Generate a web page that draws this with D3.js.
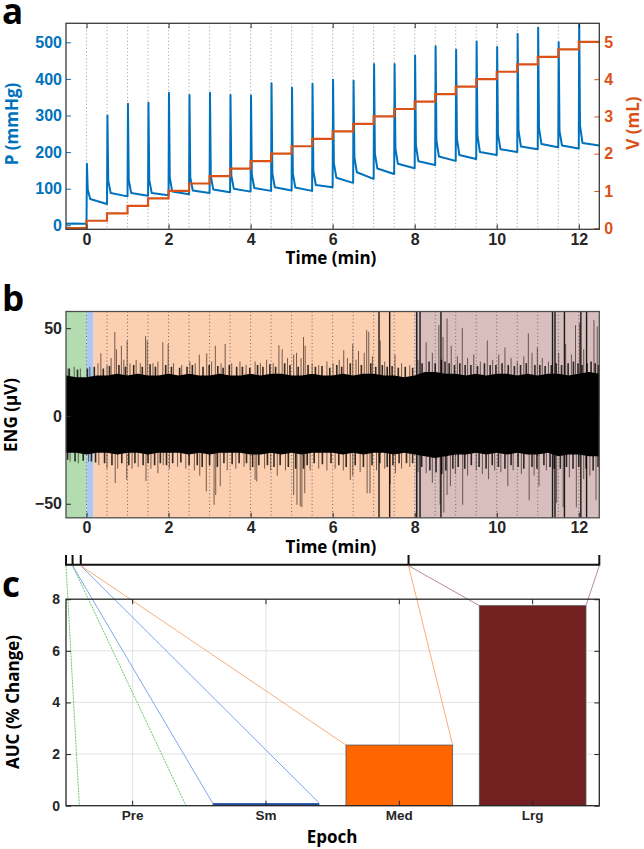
<!DOCTYPE html>
<html><head><meta charset="utf-8">
<script src="https://cdn.jsdelivr.net/npm/d3@7"></script>
<style>body{margin:0;background:#fff}svg{display:block}</style>
</head><body><svg id="chart" width="644" height="849"></svg>
<script>
// ---------------- DATA ----------------
// Panel a
const injectionTimes = [0,0.5,1,1.5,2,2.5,3,3.5,4,4.5,5,5.5,6,6.5,7,7.5,8,8.5,9,9.5,10,10.5,11,11.5,12];
const pressurePeaks  = [168,300,332,335,362,356,362,356,355,388,376,387,398,395,441,441,464,489,480,502,487,523,540,500,565];
const decayKnee      = [98,122,124,124,130,131,134,136,138,142,141,148,170,186,196,210,218,232,236,246,250,260,266,258,272];
const plateauStart   = [72,88,88,88,92,95,98,100,102,104,103,110,130,145,155,168,175,188,192,200,208,215,222,218,225];
const plateauEnd     = [58,79,81,82,85,88,90,92,94,95,94,104,116,127,140,156,165,176,181,192,200,208,213,210,218];
const preInjectionPressure = [[-0.5,4],[-0.3,5],[-0.1,4],[0,4.5]];
const volumeLevels   = [0.2,0.4,0.6,0.8,1.0,1.2,1.4,1.6,1.8,2.0,2.2,2.4,2.6,2.8,3.0,3.2,3.4,3.6,3.8,4.0,4.2,4.4,4.6,4.8,5.0];
const preInjectionVolume = 0;
const timeTicks = [0,2,4,6,8,10,12];
const pressureTicks = [0,100,200,300,400,500];
const volumeTicks = [0,1,2,3,4,5];

// Panel b
const epochNames  = ["Pre","Sm","Med","Lrg"];
const epochStarts = [-0.5, 0, 0.17, 8.0];
const epochEnds   = [0, 0.17, 8.0, 12.5];
const envTimes = [-0.5,-0.25,0,0.25,0.5,0.75,1,1.25,1.5,1.75,2,2.25,2.5,2.75,3,3.25,3.5,3.75,4,4.25,4.5,4.75,5,5.25,5.5,5.75,6,6.25,6.5,6.75,7,7.25,7.5,7.75,8,8.25,8.5,8.75,9,9.25,9.5,9.75,10,10.25,10.5,10.75,11,11.25,11.5,11.75,12,12.25,12.5];
const envUpper = [23,22,22,23,23,24,23,24,23,23,24,23,24,23,23,24,23,23,24,23,24,24,23,23,24,23,23,24,23,24,24,23,23,22,23,25,25,24,24,23,24,23,24,24,23,24,23,24,24,23,24,25,24];
const envLower = [-21,-21,-22,-21,-21,-22,-21,-21,-22,-21,-21,-21,-22,-21,-22,-21,-21,-21,-22,-22,-21,-22,-21,-22,-21,-21,-21,-22,-21,-22,-21,-21,-22,-21,-22,-23,-24,-23,-22,-22,-21,-22,-21,-22,-21,-22,-22,-21,-23,-22,-22,-23,-23];
const fringeUp = [[-0.42,27],[-0.22,26.5],[0.02,27],[0.19,28],[0.41,27],[0.56,28.5],[0.79,29],[0.95,28],[1.15,29],[1.36,28],[1.55,29.5],[1.68,28],[1.93,29],[2.07,28],[2.27,27.5],[2.45,28],[2.58,29],[2.84,28],[2.99,29],[3.2,28.5],[3.33,27.5],[3.48,29],[3.66,28],[3.8,28],[3.98,27.5],[4.17,29],[4.3,28],[4.47,29.5],[4.61,28],[4.83,30],[4.96,29],[5.16,28],[5.4,29],[5.58,28],[5.74,28.5],[5.93,27.5],[6.1,29],[6.22,28],[6.43,30],[6.7,29],[6.93,30],[7.05,28],[7.21,29],[7.33,28],[7.45,28.5],[7.6,27.5],[7.77,28],[7.95,27.5],[8.18,30],[8.35,31],[8.5,30],[8.65,32],[8.74,31],[8.84,30],[8.97,29],[9.1,30],[9.23,29],[9.37,29],[9.53,28.5],[9.7,30],[9.84,29],[9.98,29],[10.13,30],[10.28,29],[10.43,28.5],[10.58,29],[10.72,30],[10.93,29],[11.05,29],[11.18,28.5],[11.33,29],[11.45,30],[11.58,29],[11.74,30],[11.87,31],[11.98,30],[12.08,29],[12.2,30],[12.3,31],[12.4,30],[12.48,29]];
const fringeDown = [[-0.46,-25],[-0.28,-26],[-0.08,-25.5],[0.12,-26],[0.22,-26.5],[0.44,-27],[0.62,-28],[0.86,-27],[1.03,-28],[1.18,-27],[1.38,-28],[1.5,-27],[1.66,-28],[1.8,-27],[1.95,-28],[2.1,-27],[2.3,-26.5],[2.5,-28],[2.7,-28],[2.82,-29],[3.0,-28],[3.19,-29],[3.35,-27],[3.55,-27.5],[3.72,-27],[3.9,-27],[4.05,-29],[4.2,-28],[4.41,-28],[4.57,-29],[4.72,-28],[4.92,-29],[5.1,-30],[5.29,-30],[5.38,-28],[5.55,-27],[5.75,-27.5],[5.96,-27],[6.15,-28],[6.33,-29],[6.55,-28],[6.75,-29],[6.96,-28],[7.15,-27],[7.33,-29],[7.47,-28],[7.62,-27],[7.8,-27],[7.95,-27],[8.17,-29],[8.37,-31],[8.52,-32],[8.66,-33],[8.76,-31],[8.93,-30],[9.06,-29],[9.22,-30],[9.38,-28],[9.57,-29],[9.74,-30],[9.89,-28],[10.04,-29],[10.2,-30],[10.35,-28],[10.52,-29],[10.66,-30],[10.86,-29],[10.98,-30],[11.15,-28],[11.3,-29],[11.4,-30],[11.55,-30],[11.7,-29],[11.86,-30],[12.0,-29],[12.18,-30],[12.35,-31],[12.47,-29]];
const upSpikes = [[-0.45,27],[-0.3,28],[-0.15,27],[0.08,28],[0.28,30],[0.35,35.7],[0.5,29],[0.6,33],[0.69,47.9],[0.73,38],[0.85,40],[0.91,32],[0.99,43],[1.06,30],[1.21,32],[1.31,30],[1.44,45.5],[1.48,43],[1.62,30],[1.74,31],[1.86,42],[1.99,41],[2.12,30],[2.32,29],[2.52,31],[2.65,30],[2.75,35],[2.93,35.7],[3.05,31],[3.14,40],[3.28,30],[3.38,41],[3.54,30],[3.74,31],[3.89,29],[4.11,31],[4.24,30],[4.39,32],[4.55,30],[4.69,40.3],[4.77,38],[4.9,33],[5.05,35],[5.12,36],[5.23,33],[5.29,45],[5.33,40],[5.5,30],[5.66,29],[5.86,31],[6.01,30],[6.16,32],[6.27,37.5],[6.36,33],[6.49,41],[6.57,32],[6.63,37],[6.77,36],[6.83,48.9],[6.88,48],[6.97,34],[7.16,43],[7.27,31],[7.52,35],[7.68,30],[7.88,29],[8.08,32],[8.28,42],[8.43,36],[8.59,51.7],[8.69,45],[8.79,55.5],[8.89,40],[9.04,34],[9.16,50],[9.29,33],[9.44,35],[9.6,31],[9.77,43],[9.9,32],[10.05,35],[10.2,39],[10.35,33],[10.5,31],[10.66,34],[10.77,47],[10.86,36],[10.99,39],[11.11,33],[11.26,31],[11.51,36],[11.68,41],[11.82,35],[11.92,51.7],[12.02,53],[12.12,38],[12.37,54.6],[12.45,51]];
const downSpikes = [[-0.4,-26],[-0.2,-27],[0.05,-26],[0.3,-28],[0.5,-30],[0.7,-38.2],[0.76,-30],[0.98,-36.4],[1.11,-30],[1.26,-29],[1.45,-37],[1.57,-30],[1.74,-32.6],[1.87,-28],[2.02,-30],[2.22,-29],[2.42,-30],[2.63,-31],[2.76,-34],[2.92,-43],[3.11,-50.6],[3.15,-45],[3.26,-40],[3.43,-31],[3.64,-30],[3.84,-29],[3.99,-31],[4.11,-36.4],[4.15,-37.3],[4.34,-30],[4.49,-31],[4.65,-34],[4.85,-31],[5.05,-45],[5.13,-50.6],[5.21,-51.5],[5.25,-52],[5.32,-44],[5.45,-31],[5.66,-30],[5.86,-31],[6.06,-30],[6.26,-31],[6.43,-36.4],[6.49,-34],[6.67,-32],[6.84,-44],[6.91,-44],[7.07,-31],[7.27,-30],[7.4,-39],[7.53,-32.6],[7.68,-30],[7.88,-29],[8.08,-32],[8.28,-32.6],[8.43,-38],[8.62,-50.6],[8.71,-55],[8.79,-45],[8.87,-40],[8.99,-33],[9.17,-50.6],[9.29,-34],[9.5,-31],[9.65,-33],[9.8,-36],[9.95,-31],[10.1,-32],[10.27,-40],[10.4,-31],[10.6,-33],[10.79,-48],[10.91,-34],[11.03,-40],[11.21,-31],[11.46,-49.6],[11.62,-52],[11.77,-35],[11.94,-52],[12.12,-36],[12.27,-34],[12.42,-48]];
const clippedSpikeTimes = [7.13,7.39,8.05,8.13,8.64,11.36,11.42,11.65,12.05,12.19];
const engTicks = [-50,0,50];

// Panel c
const bracketEdges = [-0.5,-0.34,-0.14,7.85,12.5];
const aucValues = [0, 0.1, 2.35, 7.75];
const aucTicks = [0,2,4,6,8];

// ---------------- STYLE ----------------
const blue = "#0072BD", orange = "#D95319";
const regionFill = ["#b3ddb0","#aac8f0","#fccfb1","#d9bebe"];
const connectorColor = ["#5cbf5c","#6f9fe6","#f7a66c","#b07f80"];
const barFill = ["#4caf50","#1f4c9e","#ff6600","#722020"];
const tickFont = "'Liberation Sans', Arial, sans-serif";
const titleFont = "'Open Sans', 'DejaVu Sans', sans-serif";

const svg = d3.select("#chart");
const L = 66, R = 599.3;
const A = {top:23.3, bottom:229.3};
const B = {top:311.5, bottom:517.8};
const C = {top:599.2, bottom:805.7};

const x = d3.scaleLinear().domain([-0.5,12.5]).range([L,R]);
const yP = d3.scaleLinear().domain([-11,552]).range([A.bottom,A.top]);
const yV = d3.scaleLinear().domain([-0.03,5.5]).range([A.bottom,A.top]);
const yE = d3.scaleLinear().domain([-58,59.5]).range([B.bottom,B.top]);
const xC = d3.scaleBand().domain(epochNames).range([L,R]).paddingInner(0.2).paddingOuter(0.1);
const yC = d3.scaleLinear().domain([0,8]).range([C.bottom,C.top]);

function styleAxis(g, color, size){
  g.select(".domain").remove();
  g.selectAll(".tick line").attr("stroke", color).attr("stroke-width",1);
  g.selectAll(".tick text").attr("fill", color).style("font-family",tickFont)
    .style("font-weight","bold").style("font-size",size+"px");
}
function frame(top,bottom,color){
  svg.append("rect").attr("x",L).attr("y",top).attr("width",R-L).attr("height",bottom-top)
    .attr("fill","none").attr("stroke",color||"#262626").attr("stroke-width",1.3);
}
function label(txt,xx,yy,opt){
  const t = svg.append("text").attr("x",xx).attr("y",yy).text(txt)
    .attr("text-anchor",opt.anchor||"middle").attr("dy",opt.dy||"0.35em")
    .style("font-family",opt.font||titleFont).style("font-weight","bold")
    .style("font-size",opt.size+"px").attr("fill",opt.color||"#000");
  if(opt.rotate) t.attr("transform",`rotate(-90,${xx},${yy})`);
  return t;
}

// ---------------- PANEL A ----------------
svg.append("clipPath").attr("id","clipA").append("rect")
  .attr("x",L).attr("y",A.top).attr("width",R-L).attr("height",A.bottom-A.top);
const gA = svg.append("g").attr("clip-path","url(#clipA)");
gA.selectAll(".dotA").data(injectionTimes).join("line")
  .attr("x1",d=>x(d)).attr("x2",d=>x(d)).attr("y1",A.top).attr("y2",A.bottom)
  .attr("stroke","#9a9a9a").attr("stroke-width",1).attr("stroke-dasharray","1,2.5");

const pPts = preInjectionPressure.slice();
injectionTimes.forEach((t,i)=>{
  const prev = i===0 ? preInjectionPressure[preInjectionPressure.length-1][1] : plateauEnd[i-1];
  pPts.push([t,prev]);
  pPts.push([t+0.01,pressurePeaks[i]]);
  pPts.push([t+0.03,decayKnee[i]]);
  pPts.push([t+0.09,plateauStart[i]]);
  pPts.push([t+0.495,plateauEnd[i]]);
});
gA.append("path").datum(pPts)
  .attr("d",d3.line().x(d=>x(d[0])).y(d=>yP(d[1])))
  .attr("fill","none").attr("stroke",blue).attr("stroke-width",2).attr("stroke-linejoin","round");

const vPts = [[-0.5,preInjectionVolume]].concat(injectionTimes.map((t,i)=>[t,volumeLevels[i]]));
vPts.push([12.5,volumeLevels[volumeLevels.length-1]]);
gA.append("path").datum(vPts)
  .attr("d",d3.line().curve(d3.curveStepAfter).x(d=>x(d[0])).y(d=>yV(d[1])))
  .attr("fill","none").attr("stroke",orange).attr("stroke-width",2.2);

svg.append("g").attr("transform",`translate(0,${A.bottom})`)
  .call(d3.axisBottom(x).tickValues(timeTicks).tickSizeInner(-5).tickSizeOuter(0).tickPadding(4))
  .call(g=>styleAxis(g,"#262626",16));
svg.append("g").attr("transform",`translate(0,${A.top})`)
  .call(d3.axisTop(x).tickValues(timeTicks).tickSizeInner(-5).tickSizeOuter(0).tickFormat(""))
  .call(g=>styleAxis(g,"#262626",16));
svg.append("g").attr("transform",`translate(${L},0)`)
  .call(d3.axisLeft(yP).tickValues(pressureTicks).tickSizeInner(-5).tickSizeOuter(0).tickPadding(4))
  .call(g=>styleAxis(g,blue,16));
svg.append("g").attr("transform",`translate(${R},0)`)
  .call(d3.axisRight(yV).tickValues(volumeTicks).tickFormat(d3.format("d")).tickSizeInner(-5).tickSizeOuter(0).tickPadding(5))
  .call(g=>styleAxis(g,orange,16));
frame(A.top,A.bottom,"#3a3a3a");

label("P (mmHg)",12.5,124,{size:17,color:blue,rotate:true});
label("V (mL)",633,123,{size:17,color:orange,rotate:true});
label("Time (min)",331,258,{size:17});
label("a",2,23.5,{size:35,anchor:"start",dy:"0"});

// ---------------- PANEL B ----------------
svg.append("clipPath").attr("id","clipB").append("rect")
  .attr("x",L).attr("y",B.top).attr("width",R-L).attr("height",B.bottom-B.top);
const gB = svg.append("g").attr("clip-path","url(#clipB)");
gB.selectAll(".reg").data(epochNames).join("rect")
  .attr("x",(d,i)=>x(epochStarts[i])).attr("width",(d,i)=>x(epochEnds[i])-x(epochStarts[i]))
  .attr("y",B.top).attr("height",B.bottom-B.top).attr("fill",(d,i)=>regionFill[i]);
gB.selectAll(".dotB").data(injectionTimes).join("line")
  .attr("x1",d=>x(d)).attr("x2",d=>x(d)).attr("y1",B.top).attr("y2",B.bottom)
  .attr("stroke","#6e6e6e").attr("stroke-width",1).attr("stroke-dasharray","1,2.5");
gB.selectAll(".clipSp").data(clippedSpikeTimes).join("line")
  .attr("x1",d=>x(d)).attr("x2",d=>x(d)).attr("y1",B.top).attr("y2",B.bottom)
  .attr("stroke","#1a1a1a").attr("stroke-width",1.4);
const spikeData = upSpikes.concat(downSpikes);
gB.selectAll(".sp").data(spikeData).join("line")
  .attr("x1",d=>x(d[0])).attr("x2",d=>x(d[0])).attr("y1",yE(0)).attr("y2",d=>yE(d[1]))
  .attr("stroke","#1a0d05").attr("stroke-opacity",0.6).attr("stroke-width",1);
const fringeData = fringeUp.concat(fringeDown);
gB.selectAll(".fr").data(fringeData).join("line")
  .attr("x1",d=>x(d[0])).attr("x2",d=>x(d[0])).attr("y1",yE(0)).attr("y2",d=>yE(d[1]))
  .attr("stroke","#000").attr("stroke-opacity",0.8).attr("stroke-width",1.6);
gB.append("path").datum(envTimes.map((t,i)=>[t,envUpper[i],envLower[i]]))
  .attr("d",d3.area().x(d=>x(d[0])).y0(d=>yE(d[2])).y1(d=>yE(d[1])))
  .attr("fill","#000");

svg.append("g").attr("transform",`translate(0,${B.bottom})`)
  .call(d3.axisBottom(x).tickValues(timeTicks).tickSizeInner(-5).tickSizeOuter(0).tickPadding(4))
  .call(g=>styleAxis(g,"#262626",16));
svg.append("g").attr("transform",`translate(${L},0)`)
  .call(d3.axisLeft(yE).tickValues(engTicks).tickSizeInner(-5).tickSizeOuter(0).tickPadding(4))
  .call(g=>styleAxis(g,"#262626",16));
frame(B.top,B.bottom,"#4d4d4d");
label("ENG (\u03bcV)",11.5,415,{size:17,rotate:true});
label("Time (min)",331,547,{size:17});
label("b",2,311,{size:35,anchor:"start",dy:"0"});

// ---------------- PANEL C ----------------
const bracketY = 564.7, bracketTop = 555;
svg.append("line").attr("x1",x(bracketEdges[0])).attr("x2",x(bracketEdges[bracketEdges.length-1]))
  .attr("y1",bracketY).attr("y2",bracketY).attr("stroke","#111").attr("stroke-width",2);
svg.selectAll(".bt").data(bracketEdges).join("line")
  .attr("x1",d=>x(d)).attr("x2",d=>x(d)).attr("y1",bracketTop).attr("y2",bracketY+1)
  .attr("stroke","#111").attr("stroke-width",2);

svg.selectAll(".gy").data(aucTicks.filter(v=>v>0&&v<8)).join("line")
  .attr("x1",L).attr("x2",R).attr("y1",d=>yC(d)).attr("y2",d=>yC(d))
  .attr("stroke","#e3e3e3").attr("stroke-width",1);
svg.selectAll(".gx").data(epochNames).join("line")
  .attr("x1",d=>xC(d)+xC.bandwidth()/2).attr("x2",d=>xC(d)+xC.bandwidth()/2)
  .attr("y1",C.top).attr("y2",C.bottom).attr("stroke","#e3e3e3").attr("stroke-width",1);

svg.selectAll(".bar").data(epochNames).join("rect")
  .attr("x",d=>xC(d)).attr("width",xC.bandwidth())
  .attr("y",(d,i)=>yC(aucValues[i])).attr("height",(d,i)=>yC(0)-yC(aucValues[i]))
  .attr("fill",(d,i)=>barFill[i]).attr("stroke",(d,i)=>aucValues[i]>0.5?"#555":"none").attr("stroke-width",0.8);

epochNames.forEach((e,i)=>{
  const yy = yC(aucValues[i]);
  [[bracketEdges[i], xC(e)],[bracketEdges[i+1], xC(e)+xC.bandwidth()]].forEach(([bt,bx])=>{
    svg.append("line").attr("x1",x(bt)).attr("y1",bracketY+1).attr("x2",bx).attr("y2",yy)
      .attr("stroke",connectorColor[i]).attr("stroke-width",1).attr("stroke-opacity",0.9)
      .attr("stroke-dasharray", i===0 ? "2,1" : null);
  });
});

svg.append("g").attr("transform",`translate(${L},0)`)
  .call(d3.axisLeft(yC).tickValues(aucTicks).tickSizeInner(-5).tickSizeOuter(0).tickPadding(6))
  .call(g=>styleAxis(g,"#262626",14));
svg.append("g").attr("transform",`translate(${R},0)`)
  .call(d3.axisRight(yC).tickValues(aucTicks).tickSizeInner(-5).tickSizeOuter(0).tickFormat(""))
  .call(g=>styleAxis(g,"#262626",14));
svg.append("g").attr("transform",`translate(0,${C.bottom})`)
  .call(d3.axisBottom(xC).tickSizeInner(-5).tickSizeOuter(0).tickPadding(5))
  .call(g=>styleAxis(g,"#262626",13.5));
svg.append("g").attr("transform",`translate(0,${C.top})`)
  .call(d3.axisTop(xC).tickSizeInner(-5).tickSizeOuter(0).tickFormat(""))
  .call(g=>styleAxis(g,"#262626",13.5));
frame(C.top,C.bottom,"#262626");
label("AUC (% Change)",13,702,{size:17,rotate:true});
label("Epoch",332,837,{size:17});
label("c",2,597,{size:35,anchor:"start",dy:"0"});
</script></body></html>
